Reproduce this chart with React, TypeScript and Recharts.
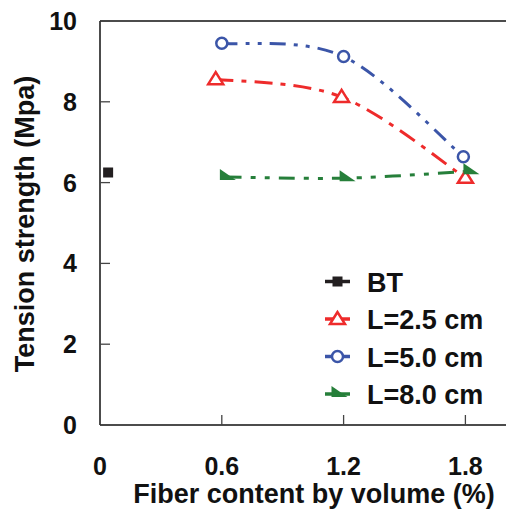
import React from 'react';
import { LineChart, Line, XAxis, YAxis, ReferenceLine, Label } from 'recharts';

const FONT = '"Liberation Sans", Arial, sans-serif';

// fiber content (%) and tension strength (MPa)
const btX = [0.04];
const btY = [6.25];
const l25X = [0.57, 1.19, 1.8];
const l25Y = [8.56, 8.12, 6.12];
const l50X = [0.6, 1.2, 1.79];
const l50Y = [9.45, 9.12, 6.64];
const l80X = [0.62, 1.21, 1.82];
const l80Y = [6.14, 6.11, 6.28];

const xTicks = [0, 0.6, 1.2, 1.8];
const yTicks = [0, 2, 4, 6, 8, 10];

const toRows = (xs: number[], ys: number[]) => xs.map((x, i) => ({ x, y: ys[i] }));

const series = [
  { name: 'BT', data: toRows(btX, btY), color: '#231f20', dash: '', marker: 'square' },
  { name: 'L=2.5 cm', data: toRows(l25X, l25Y), color: '#ee2b2b', dash: '18 8 5 8', marker: 'triangle' },
  { name: 'L=5.0 cm', data: toRows(l50X, l50Y), color: '#3b55a8', dash: '16 8 4 8 4 8', marker: 'circle' },
  { name: 'L=8.0 cm', data: toRows(l80X, l80Y), color: '#267f3a', dash: '16 9 5 9 5 9', marker: 'flag' },
];

// spreadsheet-style smoothed line (Catmull-Rom through the points)
const smoothCurve = (context: any) => {
  let pts: number[][] = [];
  return {
    areaStart() {},
    areaEnd() {},
    lineStart() {
      pts = [];
    },
    point(x: number, y: number) {
      pts.push([+x, +y]);
    },
    lineEnd() {
      const n = pts.length;
      if (!n) return;
      context.moveTo(pts[0][0], pts[0][1]);
      for (let i = 0; i < n - 1; i++) {
        const p0 = pts[Math.max(i - 1, 0)];
        const p1 = pts[i];
        const p2 = pts[i + 1];
        const p3 = pts[Math.min(i + 2, n - 1)];
        context.bezierCurveTo(
          p1[0] + (p2[0] - p0[0]) / 6,
          p1[1] + (p2[1] - p0[1]) / 6,
          p2[0] - (p3[0] - p1[0]) / 6,
          p2[1] - (p3[1] - p1[1]) / 6,
          p2[0],
          p2[1]
        );
      }
    },
  };
};

const Marker = ({ cx, cy, kind, color }: any) => {
  if (cx == null || cy == null) return null;
  if (kind === 'square') {
    return <rect x={cx - 5} y={cy - 5} width={10} height={10} fill={color} />;
  }
  if (kind === 'triangle') {
    return (
      <polygon
        points={`${cx},${cy - 7} ${cx - 7.5},${cy + 5} ${cx + 7.5},${cy + 5}`}
        fill="#fff"
        stroke={color}
        strokeWidth={2.5}
      />
    );
  }
  if (kind === 'circle') {
    return <circle cx={cx} cy={cy} r={5.5} fill="#fff" stroke={color} strokeWidth={2.5} />;
  }
  return (
    <polygon points={`${cx - 6},${cy - 8} ${cx - 6},${cy + 3} ${cx + 10},${cy + 3}`} fill={color} />
  );
};

const YTick = (props: any) => {
  const { x, y, payload } = props;
  return (
    <g>
      <line x1={x} x2={x + 10} y1={y} y2={y} stroke="#444" strokeWidth={1.3} />
      <text x={x - 23} y={y + 9} textAnchor="end" fontSize={25} fontWeight="bold" fontFamily={FONT} fill="#111">
        {payload.value}
      </text>
    </g>
  );
};

const XTick = (props: any) => {
  const { x, y, payload } = props;
  return (
    <g>
      {payload.value !== 0 && <line x1={x} x2={x} y1={y} y2={y - 10} stroke="#444" strokeWidth={1.3} />}
      <text x={x} y={y + 50} textAnchor="middle" fontSize={25} fontWeight="bold" fontFamily={FONT} fill="#111">
        {payload.value}
      </text>
    </g>
  );
};

const ChartLegend = () => (
  <svg width={186} height={150} style={{ position: 'absolute', left: 320, top: 262 }}>
    {series.map((s, i) => {
      const cy = 19.5 + i * 37.5;
      return (
        <g key={s.name}>
          <line x1={5} x2={30} y1={cy} y2={cy} stroke={s.color} strokeWidth={3.5} />
          <Marker cx={17.5} cy={cy} kind={s.marker} color={s.color} />
          <text x={47} y={cy + 10} fontSize={27} fontWeight="bold" fontFamily={FONT} fill="#111">
            {s.name}
          </text>
        </g>
      );
    })}
  </svg>
);

const App = () => {
  return (
    <div style={{ position: 'absolute', left: 0, top: 0, width: 506, height: 518, background: '#fff' }}>
      <LineChart width={506} height={518} margin={{ top: 21, right: 0, bottom: 0, left: 0 }}>
        <XAxis
          type="number"
          dataKey="x"
          domain={[0, 2]}
          ticks={xTicks}
          allowDataOverflow
          height={93}
          tickSize={0}
          tickMargin={0}
          tickLine={false}
          tick={<XTick />}
          stroke="#111"
          strokeWidth={1.5}
        >
          <Label
            content={() => (
              <text x={314} y={503} textAnchor="middle" fontSize={27} fontWeight="bold" fontFamily={FONT} fill="#111">
                Fiber content by volume (%)
              </text>
            )}
          />
        </XAxis>
        <YAxis
          type="number"
          domain={[0, 10]}
          ticks={yTicks}
          width={100}
          tickSize={0}
          tickMargin={0}
          tickLine={false}
          tick={<YTick />}
          stroke="#111"
          strokeWidth={1.5}
        >
          <Label
            content={() => (
              <text
                x={25}
                y={224}
                transform="rotate(-90 25 224)"
                textAnchor="middle"
                dominantBaseline="central"
                fontSize={27}
                fontWeight="bold"
                fontFamily={FONT}
                fill="#111"
              >
                Tension strength (Mpa)
              </text>
            )}
          />
        </YAxis>
        <ReferenceLine y={10} stroke="#111" strokeWidth={1.5} />
        {series.map((s) => (
          <Line
            key={s.name}
            data={s.data}
            dataKey="y"
            name={s.name}
            type={smoothCurve as any}
            stroke={s.color}
            strokeWidth={3}
            strokeDasharray={s.dash || undefined}
            dot={(p: any) => <Marker key={`${s.name}-${p.index}`} cx={p.cx} cy={p.cy} kind={s.marker} color={s.color} />}
            activeDot={false}
            isAnimationActive={false}
          />
        ))}
      </LineChart>
      <ChartLegend />
    </div>
  );
};

export default App;
